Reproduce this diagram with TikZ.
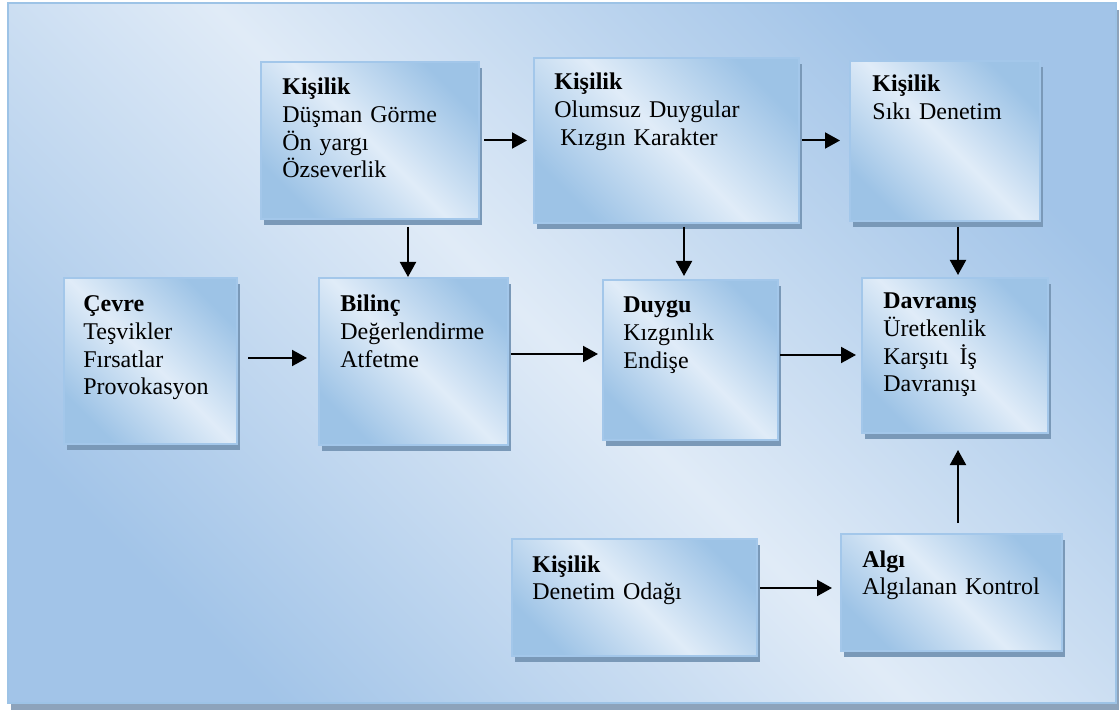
\documentclass[tikz,border=0pt]{standalone}
\usepackage{fontspec}
\setmainfont{Liberation Serif}
\usetikzlibrary{arrows.meta,shadows}
\definecolor{boxblue}{HTML}{9DC3E6}
\definecolor{boxlight}{HTML}{E0ECF8}
\definecolor{boxborder}{HTML}{A3C7EA}
\definecolor{boxshadow}{HTML}{7A99B8}
\definecolor{outerblue}{HTML}{A2C4E8}
\definecolor{outerlight}{HTML}{E0EBF7}
\definecolor{outerborder}{HTML}{9DC3E6}
\definecolor{outershadow}{HTML}{8DA3BB}
\begin{document}
\begin{tikzpicture}[x=0.5pt, y=-0.5pt,
  box/.style={draw=boxborder, line width=1pt, left color=boxblue, right color=boxblue,
    middle color=boxlight, shading angle=-45,
    drop shadow={shadow xshift=1.5pt, shadow yshift=-3pt, fill=boxshadow, opacity=1},
    anchor=north west, inner sep=0pt},
  lbl/.style={anchor=base west, inner sep=0pt, text width=130pt, align=left,
    font=\fontsize{12}{13.8}\selectfont},
  arr/.style={-{Triangle[length=7.5pt,width=8pt]}, line width=1pt, black},
  outerframe/.style={draw=outerborder, line width=1pt, left color=outerblue, right color=outerblue,
    middle color=outerlight, shading angle=-45,
    drop shadow={shadow xshift=1.5pt, shadow yshift=-3.5pt, fill=outershadow, opacity=1}}
]
\useasboundingbox (0,0) rectangle (1120,711);
\path[outerframe] (8,3) rectangle (1116,703);

% boxes
\node[box, minimum width=109pt,   minimum height=78.5pt] (b1) at (260,61) {};
\node[box, minimum width=132.5pt, minimum height=82.5pt] (b2) at (533,57) {};
\node[box, minimum width=95pt,    minimum height=80pt]   (b3) at (849,60) {};
\node[box, minimum width=86.5pt,  minimum height=83pt]   (b4) at (63,277) {};
\node[box, minimum width=94.5pt,  minimum height=83.5pt] (b5) at (318,277) {};
\node[box, minimum width=87.5pt,  minimum height=80pt]   (b6) at (602,279) {};
\node[box, minimum width=93pt,    minimum height=77.5pt] (b7) at (861,277) {};
\node[box, minimum width=122.5pt, minimum height=58.5pt] (b8) at (511,538) {};
\node[box, minimum width=110.5pt, minimum height=58.5pt] (b9) at (840,533) {};

% texts
\node[lbl] (t1) at ([xshift=11pt,yshift=-17pt]b1.north west) {\textbf{Kişilik}\\Düşman Görme\\Ön yargı\\Özseverlik};
\node[lbl] (t2) at ([xshift=10.5pt,yshift=-16.5pt]b2.north west) {\textbf{Kişilik}\\Olumsuz Duygular\\\hspace*{3pt}Kızgın Karakter};
\node[lbl] (t3) at ([xshift=11.5pt,yshift=-16pt]b3.north west) {\textbf{Kişilik}\\Sıkı Denetim};
\node[lbl] (t4) at ([xshift=10pt,yshift=-17.5pt]b4.north west) {\textbf{Çevre}\\Teşvikler\\Fırsatlar\\Provokasyon};
\node[lbl] (t5) at ([xshift=11pt,yshift=-17.5pt]b5.north west) {\textbf{Bilinç}\\Değerlendirme\\Atfetme};
\node[lbl] (t6) at ([xshift=10.5pt,yshift=-17pt]b6.north west) {\textbf{Duygu}\\Kızgınlık\\Endişe};
\node[lbl] (t7) at ([xshift=11pt,yshift=-16pt]b7.north west) {\textbf{Davranış}\\Üretkenlik\\Karşıtı\hspace{5.5pt}İş\\Davranışı};
\node[lbl] (t8) at ([xshift=10.5pt,yshift=-17pt]b8.north west) {\textbf{Kişilik}\\Denetim Odağı};
\node[lbl] (t9) at ([xshift=11pt,yshift=-17pt]b9.north west) {\textbf{Algı}\\Algılanan Kontrol};

% helper coordinates for vertical connectors
\coordinate (c3) at ([xshift=-2.75pt]b5.north);
\coordinate (c4) at ([xshift=-3.25pt]b6.north);
\coordinate (c5) at ([xshift=1.5pt]b7.north);
\coordinate (c6) at ([xshift=1.5pt]b7.south);

% connectors
\draw[arr, shorten <=2pt, shorten >=3pt] (b1.east) -- (b1.east -| b2.west);
\draw[arr, shorten <=1pt, shorten >=4.5pt] (b2.east) -- (b2.east -| b3.west);
\draw[arr, shorten <=3.5pt] (b1.south -| c3) -- (c3);
\draw[arr, shorten <=1.5pt, shorten >=1.5pt] (b2.south -| c4) -- (c4);
\draw[arr, shorten <=2.5pt, shorten >=1pt] (b3.south -| c5) -- (c5);
\draw[arr, shorten <=5pt, shorten >=5.5pt] ([yshift=1.5pt]b4.east) -- ([yshift=1.5pt]b4.east -| b5.west);
\draw[arr, shorten <=1pt, shorten >=2pt] ([yshift=3.75pt]b5.east) -- ([yshift=3.75pt]b5.east -| b6.west);
\draw[arr, shorten <=0.5pt, shorten >=2.5pt] ([yshift=2.5pt]b6.east) -- ([yshift=2.5pt]b6.east -| b7.west);
\draw[arr, shorten <=1pt, shorten >=4pt] ([yshift=4.75pt]b8.east) -- ([yshift=4.75pt]b8.east -| b9.west);
\draw[arr, shorten <=5pt, shorten >=8pt] (b9.north -| c6) -- (c6);
\end{tikzpicture}
\end{document}
